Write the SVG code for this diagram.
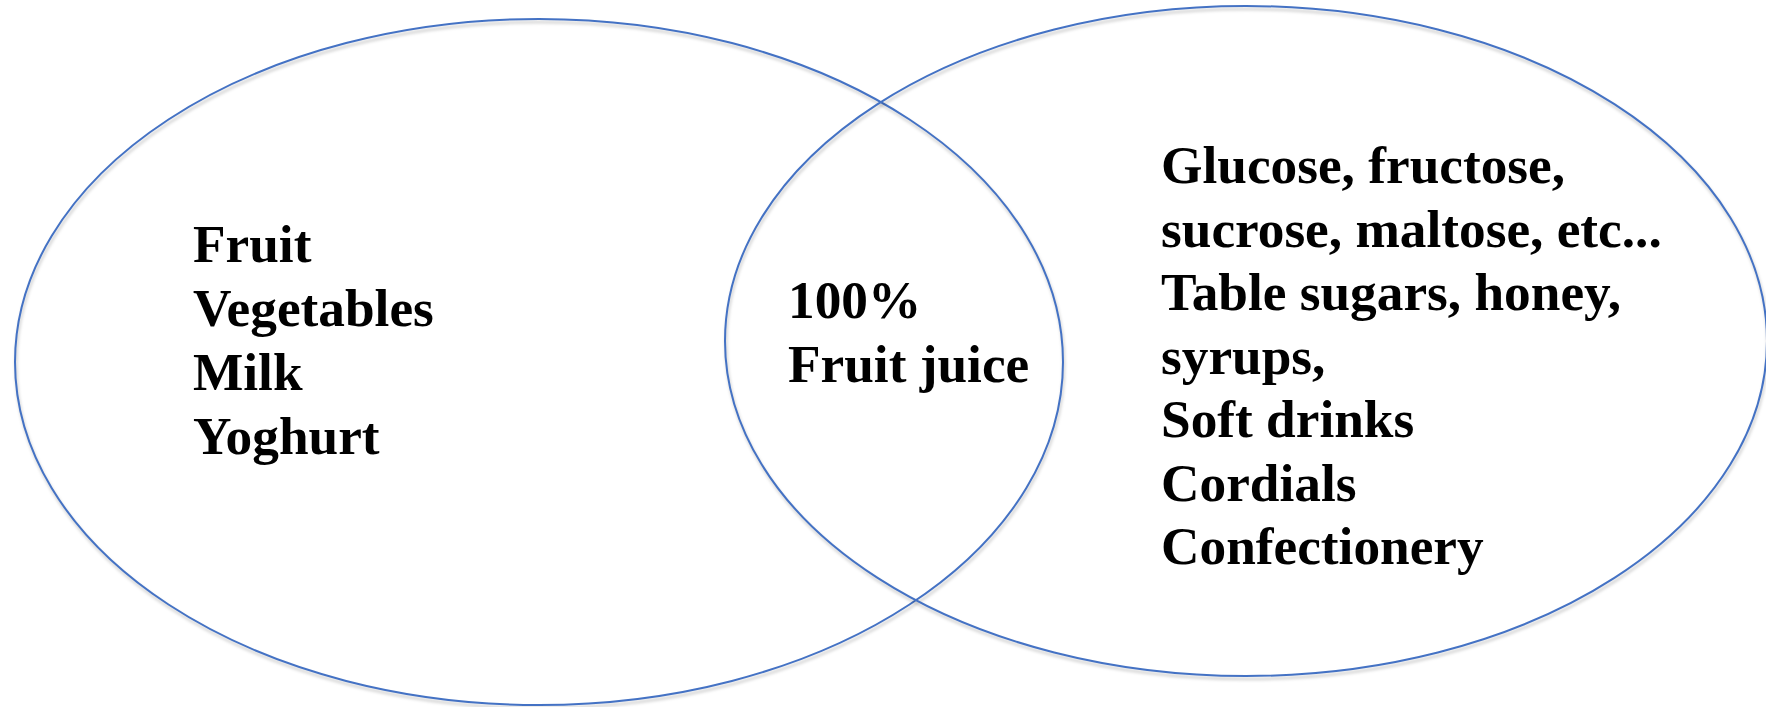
<svg xmlns="http://www.w3.org/2000/svg" width="1766" height="707" viewBox="0 0 1766 707">
<style>
.ring{fill:none;stroke:#4472C4;stroke-width:2}
.shadow{fill:none;stroke:#000;stroke-opacity:0.18;stroke-width:2.5}
.lbl{font-family:"Liberation Serif","Times New Roman",serif;font-weight:bold;font-size:53.3px;fill:#000}
</style>
<defs>
<filter id="blur" x="-5%" y="-5%" width="110%" height="110%"><feGaussianBlur stdDeviation="1.5"/></filter>
</defs>
<rect width="1766" height="707" fill="#fff"/>
<g id="left-set">
<ellipse class="shadow" filter="url(#blur)" cx="540" cy="365" rx="524" ry="343"/>
<ellipse class="ring" cx="539" cy="362" rx="524" ry="343"/>
<text class="lbl" x="193" y="262">Fruit</text>
<text class="lbl" x="193" y="326">Vegetables</text>
<text class="lbl" x="193" y="390">Milk</text>
<text class="lbl" x="193" y="454">Yoghurt</text>
</g>
<g id="right-set">
<ellipse class="shadow" filter="url(#blur)" cx="1247" cy="344" rx="521" ry="335"/>
<ellipse class="ring" cx="1246" cy="341" rx="521" ry="335"/>
<text class="lbl" x="1161" y="183">Glucose, fructose,</text>
<text class="lbl" x="1161" y="246.5">sucrose, maltose, etc...</text>
<text class="lbl" x="1161" y="310">Table sugars, honey,</text>
<text class="lbl" x="1161" y="373.5">syrups,</text>
<text class="lbl" x="1161" y="437">Soft drinks</text>
<text class="lbl" x="1161" y="500.5">Cordials</text>
<text class="lbl" x="1161" y="564">Confectionery</text>
</g>
<g id="overlap">
<text class="lbl" x="788" y="318">100%</text>
<text class="lbl" x="788" y="382">Fruit juice</text>
</g>
<g id="connectors"/>
</svg>
